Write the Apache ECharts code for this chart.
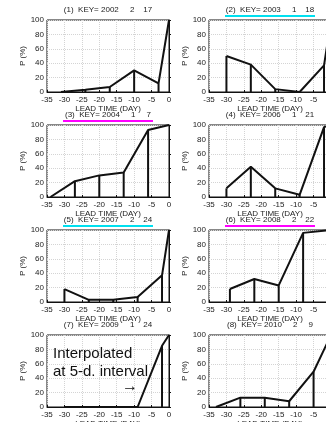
<!DOCTYPE html>
<html>
<head>
<meta charset="utf-8">
<script src="https://cdn.jsdelivr.net/npm/echarts@6/dist/echarts.min.js"></script>
<style>
html, body { margin: 0; padding: 0; background: #fff; }
#chart { width: 326px; height: 422px; }
</style>
</head>
<body>
<div id="chart"></div>
<script>
// panel titles
const titles = [
    '(1)  KEY= 2002     2    17',
    '(2)  KEY= 2003     1    18',
    '(3)  KEY= 2004     1     7',
    '(4)  KEY= 2006     1    21',
    '(5)  KEY= 2007     2    24',
    '(6)  KEY= 2008     2    22',
    '(7)  KEY= 2009     1    24',
    '(8)  KEY= 2010     2     9'
];

// lead time (day) and probability (%) per panel
const lead1 = [-31, -24, -17, -10, -3, 0];
const prob1 = [0, 3, 7, 30, 12, 100];
const lead2 = [-30, -23, -16, -9, -2, 0];
const prob2 = [50, 38, 4, 0, 37, 100];
const lead3 = [-34, -27, -20, -13, -6, 0];
const prob3 = [0, 22, 30, 34, 93, 100];
const lead4 = [-30, -23, -16, -9, -2, 0];
const prob4 = [12, 42, 12, 3, 97, 100];
const lead5 = [-30, -23, -16, -9, -2, 0];
const prob5 = [18, 3, 3, 7, 37, 100];
const lead6 = [-29, -22, -15, -8, 0];
const prob6 = [18, 32, 23, 96, 100];
const lead7 = [-30, -23, -16, -9, -2, 0];
const prob7 = [0, 0, 0, 0, 85, 100];
const lead8 = [-33, -26, -19, -12, -5, 0];
const prob8 = [0, 13, 13, 8, 49, 100];

const leads = [lead1, lead2, lead3, lead4, lead5, lead6, lead7, lead8];
const probs = [prob1, prob2, prob3, prob4, prob5, prob6, prob7, prob8];

const xMin = -35, xMax = 0, xStep = 5;
const yMin = 0, yMax = 100, yStep = 20;

const note = 'Interpolated\nat 5-d. interval';

const FONT = '"Liberation Sans", Arial, sans-serif';
const lineColors = ['', '#00e0f0', '#ff00ff', '', '#00e0f0', '#ff00ff', '', ''];

const grid = [], xAxis = [], yAxis = [], series = [], graphic = [];

titles.forEach((t, i) => {
    const col = i % 2, row = Math.floor(i / 2);
    const left = col ? 209 : 47, top = 20 + row * 105, w = 122, h = 72;
    grid.push({
        left: left, top: top, width: w, height: h,
        outerBoundsMode: 'none', containLabel: false,
        show: true, borderColor: '#111', borderWidth: 1, backgroundColor: '#fff'
    });
    xAxis.push({
        gridIndex: i, type: 'value', min: xMin, max: xMax, interval: xStep,
        name: 'LEAD TIME (DAY)', nameLocation: 'middle', nameGap: 10,
        nameTextStyle: { fontSize: 8, color: '#222', fontFamily: FONT },
        axisLine: { lineStyle: { color: '#111', width: 1 } },
        axisTick: { inside: true, length: 2, lineStyle: { color: '#111' } },
        axisLabel: { fontSize: 8, color: '#222', fontFamily: FONT, margin: 4 },
        splitLine: { show: true, lineStyle: { color: '#d4d4d4', type: 'dotted', width: 1 } }
    });
    yAxis.push({
        gridIndex: i, type: 'value', min: yMin, max: yMax, interval: yStep,
        name: 'P (%)', nameLocation: 'middle', nameGap: 14,
        nameTextStyle: { fontSize: 8, color: '#222', fontFamily: FONT },
        axisLine: { lineStyle: { color: '#111', width: 1 } },
        axisTick: { inside: true, length: 2, lineStyle: { color: '#111' } },
        axisLabel: { fontSize: 8, color: '#222', fontFamily: FONT, margin: 3 },
        splitLine: { show: true, lineStyle: { color: '#d4d4d4', type: 'dotted', width: 1 } }
    });
    const pts = leads[i].map((d, k) => [d, probs[i][k]]);
    series.push({
        type: 'bar', xAxisIndex: i, yAxisIndex: i, barWidth: 2,
        data: pts.filter(p => p[0] < xMax),
        itemStyle: { color: '#111' }, silent: true
    });
    series.push({
        type: 'line', xAxisIndex: i, yAxisIndex: i, data: pts,
        symbol: 'none', lineStyle: { color: '#111', width: 2 }, silent: true
    });
    graphic.push({
        type: 'text', x: left + w / 2, y: top - 10,
        style: { text: t, font: '8px ' + FONT, fill: '#222', align: 'center', verticalAlign: 'middle', textAlign: 'center', textVerticalAlign: 'middle' }
    });
    if (lineColors[i]) {
        graphic.push({
            type: 'line', shape: { x1: left + w / 2 - 45, y1: top - 4, x2: left + w / 2 + 45, y2: top - 4 },
            style: { stroke: lineColors[i], lineWidth: 2 }
        });
    }
});

// annotation in panel 7
graphic.push({
    type: 'text', x: 53, y: 345, z: 11,
    style: { text: note, font: '15px ' + FONT, fill: '#111', lineHeight: 18 }
});
graphic.push({
    type: 'text', x: 122, y: 379, z: 11,
    style: { text: '→', font: '16px ' + FONT, fill: '#111' }
});

const option = {
    animation: false,
    backgroundColor: '#fff',
    grid: grid,
    xAxis: xAxis,
    yAxis: yAxis,
    series: series,
    graphic: graphic
};

let myChart = echarts.init(document.getElementById('chart'));
myChart.setOption(option);
</script>
</body>
</html>
